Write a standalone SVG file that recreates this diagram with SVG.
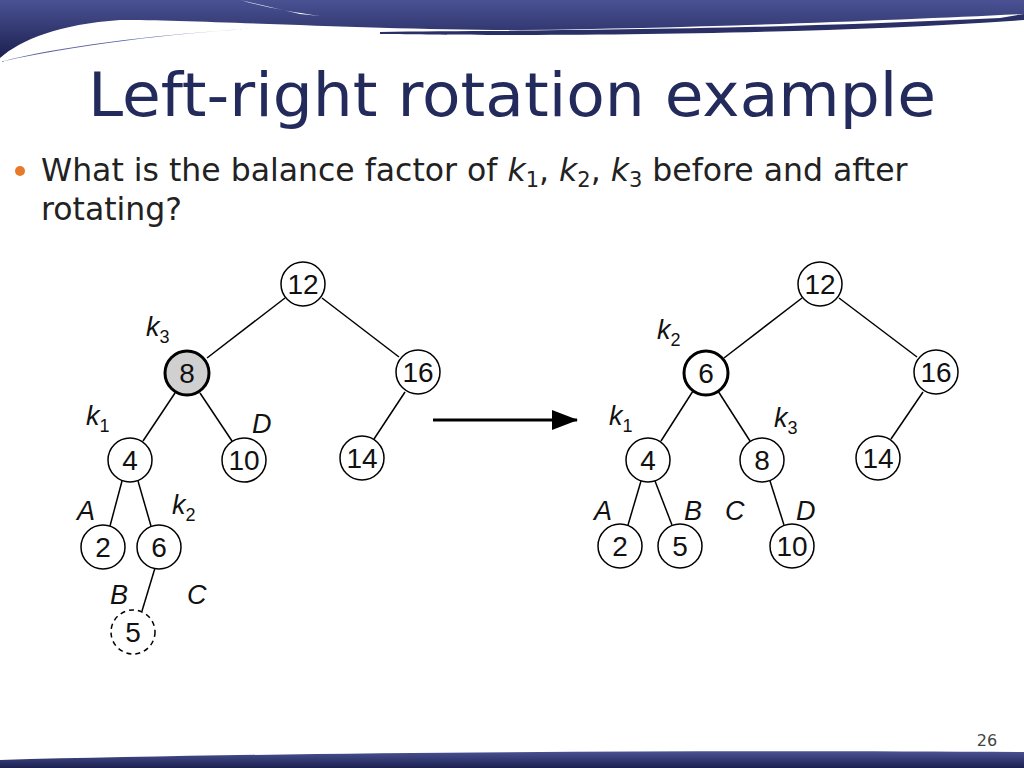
<svg xmlns="http://www.w3.org/2000/svg" width="1024" height="768" viewBox="0 0 1024 768">
<style>
.n circle{fill:#fff;stroke:#000;stroke-width:1.5}
.n text{font-family:"Liberation Sans",Arial,sans-serif;font-size:28px;text-anchor:middle;fill:#111}
.l{font-family:"Liberation Sans",Arial,sans-serif;font-size:27px;font-style:italic;fill:#111}
.l tspan{font-size:18px;font-style:normal}
#conn line{stroke:#000;stroke-width:1.5}
</style>
<defs>
<linearGradient id="bg" x1="0" y1="0" x2="0" y2="1"><stop offset="0" stop-color="#4a5294"/><stop offset="1" stop-color="#1c2150"/></linearGradient>
<marker id="ah" markerWidth="26" markerHeight="20" refX="25" refY="10" orient="auto" markerUnits="userSpaceOnUse" viewBox="0 0 26 20"><path d="M0,0 L26,10 L0,20z" fill="#000"/></marker>
</defs>
<rect width="1024" height="768" fill="#fff"/>
<path d="M0,0 H1024 V14 C900,20 700,28 520,30 C380,30 200,20 120,20 C60,24 20,40 0,58 Z" fill="url(#bg)"/>
<path d="M240,0 C260,6 290,12 320,16 L300,14 Z" fill="#fff"/>
<path d="M380,32 C500,30 700,32 1000,18 L1024,14 V20 C800,36 500,36 380,34Z" fill="#2a2f66"/>
<path d="M0,62 C100,40 200,32 260,28 L230,30 C150,36 60,46 0,62Z" fill="#5a62a4"/>
<path d="M0,768 V760 C300,752 700,750 1024,752 V768Z" fill="url(#bg)"/>
<text x="88" y="116" font-family="Verdana,'DejaVu Sans',sans-serif" font-size="60" textLength="848" lengthAdjust="spacingAndGlyphs" fill="#232a5c">Left-right rotation example</text>
<circle cx="20" cy="171" r="5" fill="#e8782a"/>
<text font-family="Verdana,'DejaVu Sans',sans-serif" font-size="31.5" fill="#222"><tspan x="41" y="181">What is the balance factor of <tspan font-style="italic">k</tspan><tspan font-size="21" dy="6">1</tspan><tspan dy="-6">, </tspan><tspan font-style="italic">k</tspan><tspan font-size="21" dy="6">2</tspan><tspan dy="-6">, </tspan><tspan font-style="italic">k</tspan><tspan font-size="21" dy="6">3</tspan><tspan dy="-6"> before and after</tspan></tspan><tspan x="41" y="220">rotating?</tspan></text>
<text x="987" y="746" font-family="Verdana,'DejaVu Sans',sans-serif" font-size="16" text-anchor="middle" fill="#444">26</text>
<g id="conn">
<line x1="285" y1="298" x2="207" y2="358"/><line x1="322" y1="298" x2="399" y2="357"/>
<line x1="175" y1="393" x2="143" y2="441"/><line x1="200" y1="393" x2="232" y2="441"/>
<line x1="405" y1="392" x2="374" y2="439"/>
<line x1="122" y1="481" x2="110" y2="526"/><line x1="138" y1="481" x2="151" y2="526"/>
<line x1="155" y1="568" x2="142" y2="611"/>
<line x1="802" y1="298" x2="724" y2="358"/><line x1="839" y1="298" x2="917" y2="357"/>
<line x1="693" y1="391" x2="661" y2="441"/><line x1="718" y1="391" x2="750" y2="441"/>
<line x1="923" y1="392" x2="891" y2="439"/>
<line x1="641" y1="481" x2="628" y2="525"/><line x1="655" y1="481" x2="672" y2="525"/>
<line x1="770" y1="481" x2="784" y2="525"/>
<line x1="433" y1="420" x2="577" y2="420" style="stroke-width:3" marker-end="url(#ah)"/>
</g>
<g id="n12a" class="n"><circle cx="303" cy="284" r="22"/><text x="303" y="294">12</text></g>
<g id="n8a" class="n"><circle cx="187" cy="373" r="22" style="fill:#d0d0d0;stroke-width:3"/><text x="187" y="383">8</text></g>
<g id="n16a" class="n"><circle cx="418" cy="372" r="22"/><text x="418" y="382">16</text></g>
<g id="n4a" class="n"><circle cx="130" cy="460" r="22"/><text x="130" y="470">4</text></g>
<g id="n10a" class="n"><circle cx="244" cy="460" r="22"/><text x="244" y="470">10</text></g>
<g id="n14a" class="n"><circle cx="362" cy="458" r="22"/><text x="362" y="468">14</text></g>
<g id="n2a" class="n"><circle cx="103" cy="547" r="22"/><text x="103" y="557">2</text></g>
<g id="n6a" class="n"><circle cx="159" cy="547" r="22"/><text x="159" y="557">6</text></g>
<g id="n5a" class="n"><circle cx="133" cy="632" r="22" style="stroke-dasharray:5,4"/><text x="133" y="642">5</text></g>
<g id="n12b" class="n"><circle cx="820" cy="284" r="22"/><text x="820" y="294">12</text></g>
<g id="n6b" class="n"><circle cx="706" cy="373" r="22" style="stroke-width:3"/><text x="706" y="383">6</text></g>
<g id="n16b" class="n"><circle cx="936" cy="372" r="22"/><text x="936" y="382">16</text></g>
<g id="n4b" class="n"><circle cx="648" cy="460" r="22"/><text x="648" y="470">4</text></g>
<g id="n8b" class="n"><circle cx="762" cy="460" r="22"/><text x="762" y="470">8</text></g>
<g id="n14b" class="n"><circle cx="878" cy="458" r="22"/><text x="878" y="468">14</text></g>
<g id="n2b" class="n"><circle cx="620" cy="546" r="22"/><text x="620" y="556">2</text></g>
<g id="n5b" class="n"><circle cx="680" cy="546" r="22"/><text x="680" y="556">5</text></g>
<g id="n10b" class="n"><circle cx="792" cy="546" r="22"/><text x="792" y="556">10</text></g>
<g id="labels">
<text class="l" x="146" y="336">k<tspan dy="7">3</tspan></text>
<text class="l" x="86" y="425">k<tspan dy="7">1</tspan></text>
<text class="l" x="252" y="433">D</text>
<text class="l" x="77" y="520">A</text>
<text class="l" x="172" y="514">k<tspan dy="7">2</tspan></text>
<text class="l" x="110" y="604">B</text>
<text class="l" x="187" y="604">C</text>
<text class="l" x="657" y="339">k<tspan dy="7">2</tspan></text>
<text class="l" x="609" y="425">k<tspan dy="7">1</tspan></text>
<text class="l" x="774" y="427">k<tspan dy="7">3</tspan></text>
<text class="l" x="594" y="520">A</text>
<text class="l" x="684" y="520">B</text>
<text class="l" x="725" y="520">C</text>
<text class="l" x="796" y="520">D</text>
</g>
</svg>
